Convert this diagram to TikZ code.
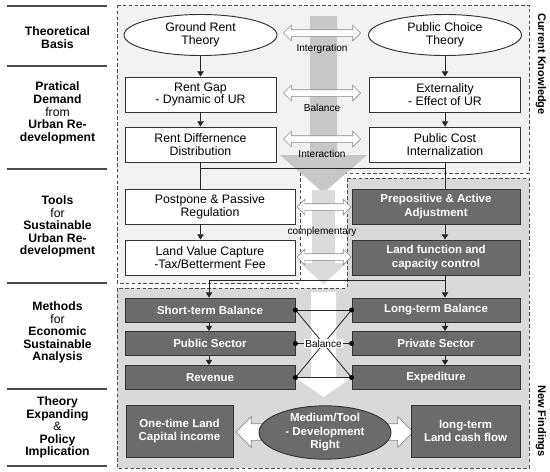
\documentclass[tikz,border=0pt]{standalone}
\usepackage{fontspec}
\setmainfont{Liberation Sans}
\usetikzlibrary{positioning,shapes.geometric,shapes.arrows,arrows.meta}
\tikzset{
  sepline/.style    = {draw=black!70, line width=1.2pt},
  sidelbl/.style    = {align=center, font=\fontsize{10.4}{10.8}\selectfont, inner sep=0pt},
  sidetag/.style    = {font=\bfseries\fontsize{9.4}{10}\selectfont, rotate=-90, inner sep=0pt},
  ckregion/.style   = {draw=black!70, densely dashed, line width=0.6pt, fill=black!5},
  nfregion/.style   = {draw=black!70, densely dashed, line width=0.6pt, fill=black!15},
  theory/.style     = {ellipse, draw=black!80, fill=white, line width=0.8pt, minimum width=45.9mm, minimum height=12.3mm, align=center, font=\fontsize{10.5}{10.8}\selectfont, inner sep=0pt},
  lbox/.style       = {draw=black!80, fill=white, line width=0.8pt, minimum height=10.5mm, align=center, font=\fontsize{10.5}{10.8}\selectfont, inner sep=0pt},
  dbox/.style       = {draw=black!80, fill=black!58, text=white, line width=0.8pt, align=center, font=\bfseries\fontsize{9.8}{11.5}\selectfont, inner sep=0pt},
  link/.style       = {-{Triangle[length=4.5pt,width=5.5pt]}, draw=black!85, line width=0.7pt},
  plain/.style      = {draw=black!85, line width=0.7pt},
  twoway/.style     = {double arrow, draw=black!45, fill=white, line width=0.6pt, double arrow head extend=1.35mm, inner sep=0.9mm},
  oneway/.style     = {single arrow, draw=black!45, fill=white, line width=0.6pt, single arrow head extend=2.1mm, inner sep=2.4mm, minimum height=9mm},
  smalllbl/.style   = {font=\fontsize{8.6}{9}\selectfont, inner sep=0pt},
  dot/.style        = {circle, fill=black, inner sep=0pt, minimum size=1.5mm},
}

\begin{document}
\begin{tikzpicture}[x=0.03cm,y=-0.03cm]
  \useasboundingbox (0,0) rectangle (550,472);

  % side column
  \foreach \yy in {6,66,169,283,389,466}
    \draw[sepline] (7,\yy) -- (107,\yy);
  \node[sidelbl] (basis) at (57.5,37.5) {\textbf{Theoretical}\\\textbf{Basis}};
  \node[sidelbl] (demand) at (57.5,113) {\textbf{Pratical}\\\textbf{Demand}\\from\\\textbf{Urban Re-}\\\textbf{development}};
  \node[sidelbl] (tools) at (57.5,226.5) {\textbf{Tools}\\for\\\textbf{Sustainable}\\\textbf{Urban Re-}\\\textbf{development}};
  \node[sidelbl] (methods) at (57.5,332.5) {\textbf{Methods}\\for\\\textbf{Economic}\\\textbf{Sustainable}\\\textbf{Analysis}};
  \node[sidelbl] (policy) at (57.5,427.5) {\textbf{Theory}\\\textbf{Expanding}\\\&\\\textbf{Policy}\\\textbf{Implication}};

  % regions
  \draw[ckregion] (117,5) -- (529,5) -- (529,173) -- (300,173) -- (300,283) -- (117,283) -- cycle;
  \draw[nfregion] (347,178) -- (529,178) -- (529,468) -- (117,468) -- (117,288) -- (347,288) -- cycle;
  \node[sidetag] (ck) at (541,64) {Current Knowledge};
  \node[sidetag] (nf) at (541,421) {New Findings};

  % big flow arrows
  \fill[black!22] (310,16) -- (337,16) -- (337,155) -- (367,155) -- (323.5,193) -- (280,155) -- (310,155) -- cycle;
  \fill[black!14] (312,190) -- (335,190) -- (335,263) -- (347,263) -- (323.5,284) -- (300,263) -- (312,263) -- cycle;
  \fill[white] (311,292) -- (336,292) -- (336,378) -- (351,378) -- (323.5,397) -- (296,378) -- (311,378) -- cycle;

  % theory row
  \node[theory] (ground) at (200.5,35) {Ground Rent\\Theory};
  \node[theory] (choice) at (445,35) {Public Choice\\Theory};
  \node[lbox, minimum width=45.3mm] (rentgap) at (200.5,94.5) {Rent Gap\\- Dynamic of UR};
  \node[lbox, minimum width=45.3mm] (rentdiff) at (200.5,144.5) {Rent Differnence\\Distribution};
  \node[lbox, minimum width=45.3mm] (extern) at (445,94.5) {Externality\\- Effect of UR};
  \node[lbox, minimum width=45.3mm] (pubcost) at (445,144.5) {Public Cost\\Internalization};

  % tools row
  \node[lbox, minimum width=51mm] (postpone) at (210,206.5) {Postpone \& Passive\\Regulation};
  \node[lbox, minimum width=51mm] (landval) at (210,257.5) {Land Value Capture\\-Tax/Betterment Fee};
  \node[dbox, minimum width=50.4mm, minimum height=10.5mm] (prepos) at (436,206.5) {Prepositive \& Active\\Adjustment};
  \node[dbox, minimum width=50.4mm, minimum height=10.5mm] (landfn) at (436,257.5) {Land function and\\capacity control};

  % methods row
  \node[dbox, minimum width=51mm, minimum height=7.2mm] (shortterm) at (210,310) {Short-term Balance};
  \node[dbox, minimum width=51mm, minimum height=7.2mm] (pubsector) at (210,343.5) {Public Sector};
  \node[dbox, minimum width=51mm, minimum height=7.2mm] (revenue) at (210,377.5) {Revenue};
  \node[dbox, minimum width=50.4mm, minimum height=7.2mm] (longterm) at (436,310) {Long-term Balance};
  \node[dbox, minimum width=50.4mm, minimum height=7.2mm] (privsector) at (436,343.5) {Private Sector};
  \node[dbox, minimum width=50.4mm, minimum height=7.2mm] (expend) at (436,377.5) {Expediture};

  % policy row
  \node[oneway, shape border rotate=180] (toonce) at (255,432) {};
  \node[oneway] (tolong) at (394,432) {};
  \node[dbox, minimum width=32.1mm, minimum height=15.6mm] (onetime) at (179.5,431) {One-time Land\\Capital income};
  \node[dbox, minimum width=32.7mm, minimum height=15.6mm] (cashflow) at (465.5,431) {long-term\\Land cash flow};
  \node[dbox, ellipse, minimum width=39.6mm, minimum height=15mm] (medium) at (325,432.5) {Medium/Tool\\- Development\\Right};

  % connectors
  \coordinate (axisL) at (200.5,0);
  \coordinate (axisS) at (209,0);
  \coordinate (axisR) at (445,0);
  \coordinate (joinup) at (0,168);
  \coordinate (joindown) at (0,280);
  \draw[link] (ground) -- (rentgap);
  \draw[link] (rentgap) -- (rentdiff);
  \draw[link] (choice) -- (extern);
  \draw[link] (extern) -- (pubcost);
  \draw[plain] (rentdiff.south) -- (rentdiff.south |- postpone.north);
  \draw[plain] (pubcost.south) -- (pubcost.south |- prepos.north);
  \draw[plain] (rentdiff.south |- joinup) -- (pubcost.south |- joinup);
  \draw[link] (postpone.south -| axisL) -- (landval.north -| axisL);
  \draw[link] (prepos.south -| axisR) -- (landfn.north -| axisR);
  \draw[link] (landfn.south -| axisR) -- (longterm.north -| axisR);
  \draw[link] (axisR |- joindown) -- (axisS |- joindown) -- (shortterm.north -| axisS);
  \draw[link] (shortterm.south -| axisS) -- (pubsector.north -| axisS);
  \draw[link] (pubsector.south -| axisS) -- (revenue.north -| axisS);
  \draw[link] (longterm.south -| axisR) -- (privsector.north -| axisR);
  \draw[link] (privsector.south -| axisR) -- (expend.north -| axisR);

  % balance cross
  \draw[plain] (shortterm.east) -- (longterm.west);
  \draw[plain] (revenue.east) -- (expend.west);
  \draw[plain] (shortterm.east) -- (expend.west);
  \draw[plain] (longterm.west) -- (revenue.east);
  \node[smalllbl, fill=white, inner sep=1pt] (balance) at (323.5,343.5) {Balance};
  \draw[plain] (pubsector.east) -- (balance.west);
  \draw[plain] (balance.east) -- (privsector.west);
  \foreach \nn in {shortterm,pubsector,revenue}
    \node[dot] at (\nn.east) {};
  \foreach \nn in {longterm,privsector,expend}
    \node[dot] at (\nn.west) {};

  % two-way arrows
  \node[twoway, minimum height=23.1mm] (integ) at (322,33) {};
  \node[twoway, minimum height=23.1mm] (bal) at (322,93) {};
  \node[twoway, minimum height=23.1mm] (inter) at (322,139) {};
  \node[twoway, minimum height=16.2mm] (compA) at (324,207) {};
  \node[twoway, minimum height=16.2mm] (compB) at (324,257) {};
  \node[smalllbl] (integlbl) at (322,48.5) {Intergration};
  \node[smalllbl] (ballbl) at (322,107.5) {Balance};
  \node[smalllbl] (interlbl) at (322,154) {Interaction};
  \node[smalllbl] (complbl) at (322,232) {complementary};
\end{tikzpicture}
\end{document}
